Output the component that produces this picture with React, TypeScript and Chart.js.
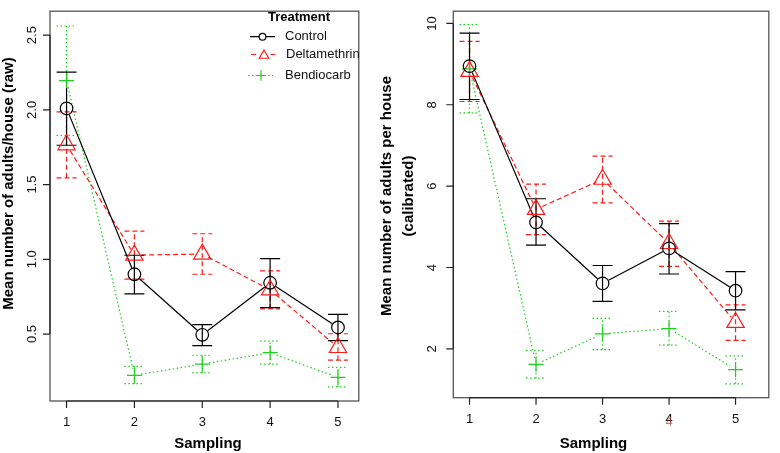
import React, { useEffect, useRef } from "react";
import { Chart, registerables } from "chart.js";
Chart.register(...registerables);

const FONT = '"Liberation Sans", Arial, Helvetica, sans-serif';

// ---------- data ----------
const sampling = [1, 2, 3, 4, 5];
const xTickLabels = ["1", "2", "3", "4", "5"];
const seriesNames = ["Control", "Deltamethrin", "Bendiocarb"];
const legendTitle = "Treatment";
const xTitle = "Sampling";

// left panel (raw)
const rawYTicks = [0.5, 1.0, 1.5, 2.0, 2.5];
const rawYTickLabels = ["0.5", "1.0", "1.5", "2.0", "2.5"];
const rawControl = [2.01, 0.9, 0.495, 0.843, 0.544];
const rawControlLow = [1.763, 0.769, 0.423, 0.677, 0.456];
const rawControlHigh = [2.253, 1.027, 0.563, 1.005, 0.631];
const rawDelta = [1.766, 1.028, 1.035, 0.795, 0.41];
const rawDeltaLow = [1.545, 0.867, 0.9, 0.668, 0.325];
const rawDeltaHigh = [1.986, 1.189, 1.171, 0.922, 0.502];
const rawBendio = [2.196, 0.224, 0.299, 0.375, 0.21];
const rawBendioLow = [1.829, 0.168, 0.24, 0.299, 0.146];
const rawBendioHigh = [2.561, 0.284, 0.358, 0.452, 0.277];
const rawYTitle = ["Mean number of adults/house (raw)"];

// right panel (calibrated)
const calYTicks = [2, 4, 6, 8, 10];
const calYTickLabels = ["2", "4", "6", "8", "10"];
const calControl = [8.95, 5.11, 3.61, 4.47, 3.43];
const calControlLow = [8.13, 4.55, 3.17, 3.84, 2.96];
const calControlHigh = [9.76, 5.69, 4.05, 5.08, 3.9];
const calDelta = [8.82, 5.43, 6.17, 4.59, 2.65];
const calDeltaLow = [8.08, 4.81, 5.59, 4.03, 2.21];
const calDeltaHigh = [9.56, 6.05, 6.74, 5.14, 3.08];
const calBendio = [8.88, 1.62, 2.37, 2.5, 1.49];
const calBendioLow = [7.8, 1.28, 1.98, 2.09, 1.14];
const calBendioHigh = [9.97, 1.96, 2.75, 2.92, 1.83];
const calYTitle = ["Mean number of adults per house", "(calibrated)"];

// ---------- styles ----------
const BLACK = "#000000";
const RED = "#ff1a1a";
const GREEN = "#1fcf1f";
const styles = [
  { color: BLACK, dash: [] as number[], point: "circle", radius: 6.3 },
  { color: RED, dash: [5, 3], point: "triangle", radius: 10 },
  { color: GREEN, dash: [1.5, 2.5], point: "cross", radius: 7.5 },
];
const LINE_GAP = 6.8;

type PanelCfg = {
  width: number;
  pad: { left: number; right: number; top: number; bottom: number };
  xMin: number;
  xMax: number;
  yMin: number;
  yMax: number;
  yTicks: number[];
  yTickLabels: string[];
  yTickBaseX: number;
  xTickBaseY: number;
  yTitle: string[];
  yTitleBaseX: number[];
  yTitleCY: number;
  xTitleCX: number;
  xTitleBaseY: number;
  means: number[][];
  lows: number[][];
  highs: number[][];
  legend: boolean;
  ghostTick?: { index: number; dy: number };
};

function drawMarker(ctx: CanvasRenderingContext2D, kind: string, x: number, y: number, r: number) {
  ctx.beginPath();
  if (kind === "circle") {
    ctx.arc(x, y, r, 0, Math.PI * 2);
  } else if (kind === "triangle") {
    for (let k = 0; k < 3; k++) {
      const a = (k * 2 * Math.PI) / 3;
      const px = x + Math.sin(a) * r;
      const py = y - Math.cos(a) * r;
      if (k === 0) ctx.moveTo(px, py);
      else ctx.lineTo(px, py);
    }
    ctx.closePath();
  } else {
    ctx.moveTo(x - r, y);
    ctx.lineTo(x + r, y);
    ctx.moveTo(x, y - r);
    ctx.lineTo(x, y + r);
  }
  ctx.stroke();
}

function panelPlugin(cfg: PanelCfg) {
  return {
    id: "panelDecor",
    beforeDatasetsDraw(chart: any) {
      const ctx: CanvasRenderingContext2D = chart.ctx;
      const xs = chart.scales.x;
      const ys = chart.scales.y;
      ctx.save();
      for (let s = cfg.means.length - 1; s >= 0; s--) {
        const st = styles[s];
        ctx.strokeStyle = st.color;
        ctx.lineWidth = 1.2;
        ctx.setLineDash(st.dash);
        // error bars
        for (let j = 0; j < sampling.length; j++) {
          const x = xs.getPixelForValue(sampling[j]);
          const yl = ys.getPixelForValue(cfg.lows[s][j]);
          const yh = ys.getPixelForValue(cfg.highs[s][j]);
          ctx.beginPath();
          ctx.moveTo(x, yl);
          ctx.lineTo(x, yh);
          ctx.moveTo(x - 10, yl);
          ctx.lineTo(x + 10, yl);
          ctx.moveTo(x - 10, yh);
          ctx.lineTo(x + 10, yh);
          ctx.stroke();
        }
        // connecting lines with gaps at the points (R type "b")
        const meta = chart.getDatasetMeta(s);
        ctx.beginPath();
        for (let j = 0; j < meta.data.length - 1; j++) {
          const p = meta.data[j];
          const q = meta.data[j + 1];
          const dx = q.x - p.x;
          const dy = q.y - p.y;
          const len = Math.hypot(dx, dy);
          if (len <= 2 * LINE_GAP) continue;
          const ux = dx / len;
          const uy = dy / len;
          ctx.moveTo(p.x + ux * LINE_GAP, p.y + uy * LINE_GAP);
          ctx.lineTo(q.x - ux * LINE_GAP, q.y - uy * LINE_GAP);
        }
        ctx.stroke();
      }
      ctx.restore();
    },
    afterDraw(chart: any) {
      const ctx: CanvasRenderingContext2D = chart.ctx;
      const xs = chart.scales.x;
      const ys = chart.scales.y;
      const a = chart.chartArea;
      ctx.save();
      ctx.setLineDash([]);
      // box
      ctx.strokeStyle = "#555555";
      ctx.lineWidth = 1.3;
      ctx.strokeRect(a.left, a.top, a.right - a.left, a.bottom - a.top);
      // axes
      ctx.strokeStyle = "#222222";
      ctx.lineWidth = 1.2;
      const x1 = xs.getPixelForValue(sampling[0]);
      const x5 = xs.getPixelForValue(sampling[sampling.length - 1]);
      ctx.beginPath();
      ctx.moveTo(x1, a.bottom);
      ctx.lineTo(x5, a.bottom);
      for (const v of sampling) {
        const x = xs.getPixelForValue(v);
        ctx.moveTo(x, a.bottom);
        ctx.lineTo(x, a.bottom + 7);
      }
      const yb = ys.getPixelForValue(cfg.yTicks[0]);
      const yt = ys.getPixelForValue(cfg.yTicks[cfg.yTicks.length - 1]);
      ctx.moveTo(a.left, yb);
      ctx.lineTo(a.left, yt);
      for (const v of cfg.yTicks) {
        const y = ys.getPixelForValue(v);
        ctx.moveTo(a.left, y);
        ctx.lineTo(a.left - 7, y);
      }
      ctx.stroke();

      // tick labels
      ctx.fillStyle = "#111111";
      ctx.font = `13px ${FONT}`;
      ctx.textAlign = "center";
      ctx.textBaseline = "alphabetic";
      sampling.forEach((v, i) => {
        ctx.fillText(xTickLabels[i], xs.getPixelForValue(v), cfg.xTickBaseY);
      });
      if (cfg.ghostTick) {
        ctx.save();
        ctx.fillStyle = "rgba(170,80,70,0.75)";
        ctx.fillText(
          xTickLabels[cfg.ghostTick.index],
          xs.getPixelForValue(sampling[cfg.ghostTick.index]),
          cfg.xTickBaseY + cfg.ghostTick.dy
        );
        ctx.restore();
      }
      cfg.yTicks.forEach((v, i) => {
        const y = ys.getPixelForValue(v);
        ctx.save();
        ctx.translate(cfg.yTickBaseX, y);
        ctx.rotate(-Math.PI / 2);
        ctx.fillText(cfg.yTickLabels[i], 0, 0);
        ctx.restore();
      });

      // titles
      ctx.fillStyle = "#000000";
      ctx.font = `bold 15px ${FONT}`;
      ctx.fillText(xTitle, cfg.xTitleCX, cfg.xTitleBaseY);
      cfg.yTitle.forEach((t, i) => {
        ctx.save();
        ctx.translate(cfg.yTitleBaseX[i], cfg.yTitleCY);
        ctx.rotate(-Math.PI / 2);
        ctx.fillText(t, 0, 0);
        ctx.restore();
      });

      // legend
      if (cfg.legend) {
        ctx.font = `bold 13px ${FONT}`;
        ctx.textAlign = "center";
        ctx.textBaseline = "middle";
        ctx.fillText(legendTitle, 299, 17.5);
        const rows = [
          { y: 36.7, x0: 250, x1: 275, mx: 262.5, tx: 285, r: 3.4 },
          { y: 54.5, x0: 251, x1: 276, mx: 264, tx: 286, r: 5.5 },
          { y: 75.5, x0: 248, x1: 273, mx: 261, tx: 285, r: 5.2 },
        ];
        ctx.font = `13px ${FONT}`;
        ctx.textAlign = "left";
        rows.forEach((r, i) => {
          const st = styles[i];
          ctx.strokeStyle = st.color;
          ctx.lineWidth = 1.2;
          ctx.setLineDash(st.dash);
          ctx.beginPath();
          if (i === 2) {
            ctx.moveTo(r.x0, r.y);
            ctx.lineTo(r.x1, r.y);
          } else {
            const g = i === 0 ? r.r : r.r + 1;
            ctx.moveTo(r.x0, r.y);
            ctx.lineTo(r.mx - g, r.y);
            ctx.moveTo(r.mx + g, r.y);
            ctx.lineTo(r.x1, r.y);
          }
          ctx.stroke();
          ctx.setLineDash([]);
          drawMarker(ctx, st.point, r.mx, r.y + (i === 1 ? 1 : 0), r.r);
          ctx.fillStyle = "#111111";
          ctx.fillText(seriesNames[i], r.tx, r.y);
        });
      }
      ctx.restore();
    },
  };
}

function buildChart(canvas: HTMLCanvasElement, cfg: PanelCfg) {
  const datasets = cfg.means.map((m, s) => ({
    label: seriesNames[s],
    data: m.map((v, j) => ({ x: sampling[j], y: v })),
    showLine: false,
    borderColor: styles[s].color,
    borderWidth: 1.2,
    pointStyle: styles[s].point,
    pointRadius: styles[s].radius,
    pointBorderColor: styles[s].color,
    pointBackgroundColor: "rgba(0,0,0,0)",
    pointBorderWidth: 1.2,
    fill: false,
    tension: 0,
    clip: false,
  }));
  return new Chart(canvas, {
    type: "line",
    data: { datasets } as any,
    options: {
      responsive: false,
      animation: false,
      events: [],
      layout: { padding: cfg.pad },
      plugins: { legend: { display: false }, tooltip: { enabled: false } },
      scales: {
        x: { type: "linear", min: cfg.xMin, max: cfg.xMax, display: false },
        y: { type: "linear", min: cfg.yMin, max: cfg.yMax, display: false },
      },
    } as any,
    plugins: [panelPlugin(cfg) as any],
  });
}

const leftCfg: PanelCfg = {
  width: 370,
  pad: { left: 50, right: 8.3, top: 3.3, bottom: 52 },
  xMin: 0.756,
  xMax: 5.307,
  yMin: 0.052,
  yMax: 2.66,
  yTicks: rawYTicks,
  yTickLabels: rawYTickLabels,
  yTickBaseX: 36,
  xTickBaseY: 426,
  yTitle: rawYTitle,
  yTitleBaseX: [12.8],
  yTitleCY: 183.5,
  xTitleCX: 208,
  xTitleBaseY: 448,
  means: [rawControl, rawDelta, rawBendio],
  lows: [rawControlLow, rawDeltaLow, rawBendioLow],
  highs: [rawControlHigh, rawDeltaHigh, rawBendioHigh],
  legend: true,
};

const rightCfg: PanelCfg = {
  width: 410,
  pad: { left: 83.3, right: 1.7, top: 1.7, bottom: 55.3 },
  xMin: 0.756,
  xMax: 5.5,
  yMin: 0.8,
  yMax: 10.3,
  yTicks: calYTicks,
  yTickLabels: calYTickLabels,
  yTickBaseX: 65.8,
  xTickBaseY: 422.7,
  yTitle: calYTitle,
  yTitleBaseX: [20.5, 43],
  yTitleCY: 196,
  xTitleCX: 223.5,
  xTitleBaseY: 447.5,
  means: [calControl, calDelta, calBendio],
  lows: [calControlLow, calDeltaLow, calBendioLow],
  highs: [calControlHigh, calDeltaHigh, calBendioHigh],
  legend: false,
  ghostTick: { index: 3, dy: 3.5 },
};

export default function App() {
  const leftRef = useRef<HTMLCanvasElement>(null);
  const rightRef = useRef<HTMLCanvasElement>(null);
  useEffect(() => {
    const c1 = buildChart(leftRef.current!, leftCfg);
    const c2 = buildChart(rightRef.current!, rightCfg);
    return () => {
      c1.destroy();
      c2.destroy();
    };
  }, []);
  return (
    <div style={{ position: "absolute", left: 0, top: 0, width: 780, height: 453, background: "#ffffff" }}>
      <canvas
        ref={leftRef}
        width={370}
        height={453}
        style={{ position: "absolute", left: 0, top: 0, width: 370, height: 453 }}
      />
      <canvas
        ref={rightRef}
        width={410}
        height={453}
        style={{ position: "absolute", left: 370, top: 0, width: 410, height: 453 }}
      />
    </div>
  );
}
